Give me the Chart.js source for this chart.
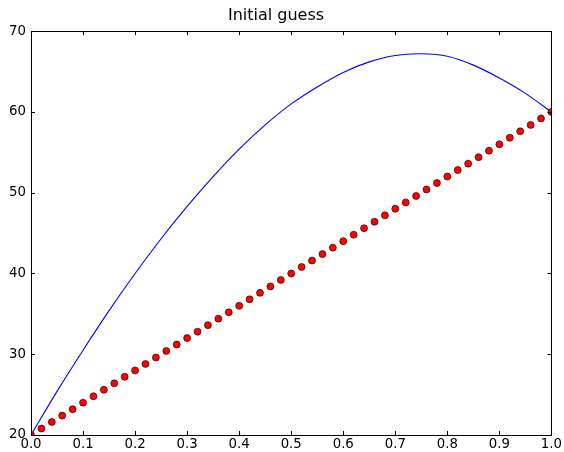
<!DOCTYPE html>
<html>
<head>
<meta charset="utf-8">
<script src="https://cdn.jsdelivr.net/npm/chart.js@4/dist/chart.umd.min.js"></script>
<style>
  html, body { margin: 0; padding: 0; background: #fff; }
  #wrap { width: 564px; height: 452px; }
</style>
</head>
<body>
<div id="wrap"><canvas id="myChart" width="564" height="452"></canvas></div>
<script>
// blue curve, every 0.05
var curveX = [0, 0.05, 0.1, 0.15, 0.2, 0.25, 0.3, 0.35, 0.4, 0.45, 0.5, 0.55, 0.6, 0.65, 0.7, 0.75, 0.8, 0.85, 0.9, 0.95, 1.0];
var curveY = [20, 25.4, 30.5, 35.4, 40.0, 44.3, 48.3, 52.0, 55.4, 58.4, 61.0, 63.1, 64.9, 66.2, 67.0, 67.2, 66.9, 65.8, 64.2, 62.3, 60.0];

// red dots
var dotX = [0, 0.02, 0.04, 0.06, 0.08, 0.1, 0.12, 0.14, 0.16, 0.18, 0.2, 0.22, 0.24, 0.26, 0.28, 0.3, 0.32, 0.34, 0.36, 0.38, 0.4,
            0.42, 0.44, 0.46, 0.48, 0.5, 0.52, 0.54, 0.56, 0.58, 0.6, 0.62, 0.64, 0.66, 0.68, 0.7, 0.72, 0.74, 0.76, 0.78, 0.8,
            0.82, 0.84, 0.86, 0.88, 0.9, 0.92, 0.94, 0.96, 0.98, 1.0];
var dotY = [20, 20.8, 21.6, 22.4, 23.2, 24, 24.8, 25.6, 26.4, 27.2, 28, 28.8, 29.6, 30.4, 31.2, 32, 32.8, 33.6, 34.4, 35.2, 36,
            36.8, 37.6, 38.4, 39.2, 40, 40.8, 41.6, 42.4, 43.2, 44, 44.8, 45.6, 46.4, 47.2, 48, 48.8, 49.6, 50.4, 51.2, 52,
            52.8, 53.6, 54.4, 55.2, 56, 56.8, 57.6, 58.4, 59.2, 60];

var xTicks = [0, 0.1, 0.2, 0.3, 0.4, 0.5, 0.6, 0.7, 0.8, 0.9, 1.0];
var yTicks = [20, 30, 40, 50, 60, 70];

Chart.defaults.font.family = "'DejaVu Sans', sans-serif";
Chart.defaults.color = "#000";

// matplotlib-like frame with inward ticks on all sides
var frame = {
  id: "frame",
  afterDraw: function(chart) {
    var ctx = chart.ctx, a = chart.chartArea;
    var sx = chart.scales.x, sy = chart.scales.y, len = 4;
    ctx.save();
    ctx.strokeStyle = "#000";
    ctx.lineWidth = 1;
    ctx.beginPath();
    xTicks.forEach(function(v) {
      var px = Math.round(sx.getPixelForValue(v)) + 0.5;
      ctx.moveTo(px, a.bottom); ctx.lineTo(px, a.bottom - len);
      ctx.moveTo(px, a.top); ctx.lineTo(px, a.top + len);
    });
    yTicks.forEach(function(v) {
      var py = Math.round(sy.getPixelForValue(v)) + 0.5;
      ctx.moveTo(a.left, py); ctx.lineTo(a.left + len, py);
      ctx.moveTo(a.right, py); ctx.lineTo(a.right - len, py);
    });
    ctx.stroke();
    ctx.strokeRect(Math.round(a.left) + 0.5, Math.round(a.top) + 0.5,
                   Math.round(a.right - a.left), Math.round(a.bottom - a.top));
    ctx.restore();
  }
};

new Chart("myChart", {
  type: "scatter",
  data: {
    datasets: [{
      data: dotX.map(function(x, i) { return {x: x, y: dotY[i]}; }),
      backgroundColor: "#ff0000",
      borderColor: "#000",
      borderWidth: 0.6,
      pointRadius: 3.5,
      showLine: false,
      clip: 0,
      order: 0
    }, {
      data: curveX.map(function(x, i) { return {x: x, y: curveY[i]}; }),
      borderColor: "#0000ff",
      borderWidth: 1.1,
      pointRadius: 0,
      showLine: true,
      tension: 0.33,
      clip: 0,
      order: 1
    }]
  },
  options: {
    responsive: false,
    animation: false,
    layout: {padding: {left: 0, right: 12, top: 0, bottom: 0}},
    plugins: {
      legend: {display: false},
      tooltip: {enabled: false},
      title: {
        display: true,
        text: "Initial guess",
        font: {size: 16, weight: "normal"},
        color: "#000",
        padding: {top: 6, bottom: 6}
      }
    },
    scales: {
      x: {
        type: "linear",
        min: 0, max: 1,
        afterFit: function(s) { s.height = 17; },
        afterBuildTicks: function(s) { s.ticks = xTicks.map(function(v) { return {value: v}; }); },
        grid: {display: false, drawTicks: false},
        border: {display: false},
        ticks: {
          padding: 2,
          font: {size: 13.3},
          maxRotation: 0,
          callback: function(v) { return Number(v).toFixed(1); }
        }
      },
      y: {
        min: 20, max: 70,
        afterFit: function(s) { s.width = 31; },
        afterBuildTicks: function(s) { s.ticks = yTicks.map(function(v) { return {value: v}; }); },
        grid: {display: false, drawTicks: false},
        border: {display: false},
        ticks: {padding: 5, font: {size: 13.3}}
      }
    }
  },
  plugins: [frame]
});
</script>
</body>
</html>
